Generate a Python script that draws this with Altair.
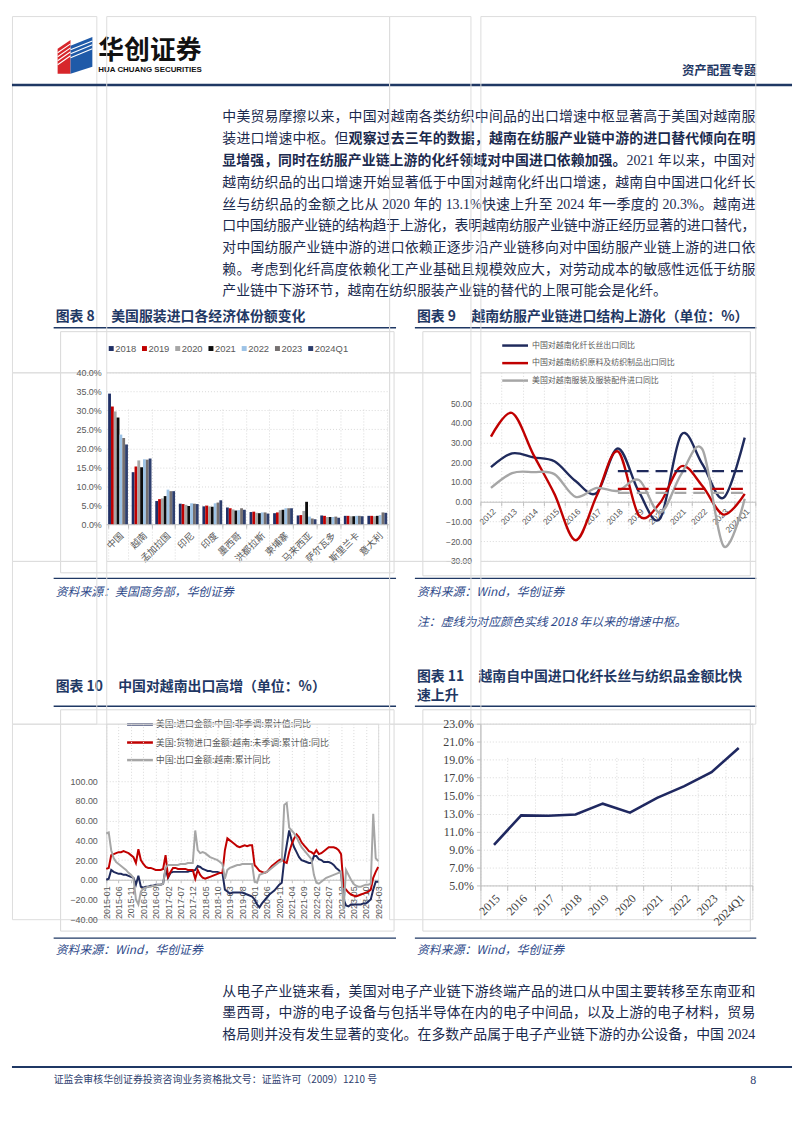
import altair as alt
import pandas as pd

CJK = "Noto Sans CJK SC"
SANS = "Liberation Sans, Noto Sans CJK SC"
SERIF = "Liberation Serif, Noto Sans CJK SC"
LSERIF = "Liberation Serif"
NAVY = "#1F3864"
BODY = "#1B2A4E"
SRC = "#2E4A8A"
AX = "#595959"
GRID = "#D9D9D9"
AXLINE = "#BFBFBF"

# ---------------- chart 8 data ----------------
countries8 = ["中国", "越南", "孟加拉国", "印尼", "印度", "墨西哥", "洪都拉斯", "柬埔寨",
              "马来西亚", "萨尔瓦多", "斯里兰卡", "意大利"]
years8 = ["2018", "2019", "2020", "2021", "2022", "2023", "2024Q1"]
share_2018 = [34.4, 13.7, 6.1, 5.4, 4.7, 4.4, 3.2, 2.9, 2.3, 2.3, 2.2, 2.2]
share_2019 = [31.0, 15.2, 6.6, 5.3, 4.9, 4.2, 3.3, 3.1, 2.4, 2.2, 2.2, 2.2]
share_2020 = [29.7, 16.8, 6.8, 5.1, 4.7, 3.9, 3.0, 3.7, 3.5, 1.9, 2.1, 2.1]
share_2021 = [28.1, 15.0, 7.4, 4.8, 4.6, 3.6, 2.9, 3.8, 5.9, 1.9, 2.1, 2.2]
share_2022 = [23.6, 17.1, 9.1, 5.5, 5.5, 3.7, 3.1, 4.2, 2.0, 1.9, 2.2, 2.4]
share_2023 = [22.7, 17.0, 8.7, 5.4, 5.7, 4.2, 3.1, 4.2, 1.5, 2.0, 2.2, 3.1]
share_2024Q1 = [21.0, 17.3, 8.7, 5.3, 6.3, 3.8, 2.8, 4.2, 1.3, 1.7, 2.1, 3.0]
colors8 = ["#1F2F66", "#C00000", "#A6A6A6", "#0D0D0D", "#9DC3E6", "#767171", "#2E3F6E"]
y_ticks8 = [0, 5, 10, 15, 20, 25, 30, 35, 40]

# ---------------- chart 9 data ----------------
years9 = ["2012", "2013", "2014", "2015", "2016", "2017", "2018", "2019", "2020",
          "2021", "2022", "2023", "2024Q1"]
series9 = ["中国对越南化纤长丝出口同比", "中国对越南纺织原料及纺织制品出口同比",
           "美国对越南服装及服装配件进口同比"]
cn_fiber_yoy = [17.5, 24.5, 22.5, 20.5, 10.5, 4.5, 27.0, 5.0, -8.5, 34.0, 19.0, 2.0, 32.5]
cn_textile_yoy = [33.0, 45.0, 24.0, 4.0, -19.5, 3.0, 25.5, -7.0, -0.5, 18.0, 8.0, -6.5, 4.0]
us_apparel_yoy = [7.0, 14.5, 15.0, 14.0, 2.5, 7.0, 5.5, 11.0, -5.5, 14.0, 26.5, -22.5, 1.5]
median9 = [15.5, 6.5, 4.5]
colors9 = ["#1F2A5C", "#C00000", "#A6A6A6"]
y_ticks9 = [-30, -20, -10, 0, 10, 20, 30, 40, 50]

# ---------------- chart 10 data ----------------
series10 = ["美国:进口金额:中国:非季调:累计值:同比", "美国:货物进口金额:越南:未季调:累计值:同比",
            "中国:出口金额:越南:累计同比"]
x_labels10 = ["2015-01", "2015-06", "2015-11", "2016-04", "2016-09", "2017-02", "2017-07",
              "2017-12", "2018-05", "2018-10", "2019-03", "2019-08", "2020-01", "2020-06",
              "2020-11", "2021-04", "2021-09", "2022-02", "2022-07", "2022-12", "2023-05",
              "2023-10", "2024-03"]
months10 = [f"{y}-{m:02d}" for y in range(2015, 2025) for m in range(1, 13)][:111]
us_imp_china = [0, 1, 10, 8, 7, 6, 6, 5, 5, 4, 3, 2,
                -5, 4, -7, -8, -7, -7, -6, -6, -5, -5, -5, -4,
                11, 2, 7, 8, 8, 8, 8, 8, 8, 8, 9, 9,
                10, 14, 13, 11, 10, 9, 9, 8, 8, 8, 7, 7,
                -10, -12, -14, -13, -13, -13, -13, -13, -14, -15, -16, -17,
                -20, -25, -28, -24, -21, -18, -15, -13, -11, -8, -5, -3,
                20, 35, 50, 40, 33, 28, 23, 20, 19, 18, 17, 17,
                24, 24, 21, 20, 18, 18, 18, 17, 15, 12, 10, 7,
                -20, -26, -27, -25, -25, -25, -25, -25, -24, -24, -22, -20,
                -10, -2, -2]
us_imp_vietnam = [11, 12, 25, 26, 27, 28, 28, 29, 28, 27, 25, 23,
                  17, 31, 20, 16, 13, 12, 12, 11, 10, 10, 10, 11,
                  25, 3, 8, 12, 12, 11, 11, 11, 11, 10, 10, 10,
                  1, 10, 5, 2, 1, 2, 3, 4, 5, 6, 7, 7,
                  30, 42, 40, 38, 36, 34, 33, 34, 35, 34, 35, 35,
                  15, 12, 9, 8, 7, 8, 11, 14, 16, 18, 20, 21,
                  18, 17, 28, 36, 42, 46, 43, 38, 35, 32, 29, 28,
                  26, 30, 26, 27, 29, 31, 33, 33, 33, 32, 30, 26,
                  -7, -10, -13, -15, -16, -17, -16, -15, -14, -13, -12, -10,
                  2, 8, 13]
cn_exp_vietnam = [47, 48, 30, 22, 18, 16, 14, 12, 10, 7, 5, 2,
                  -20, -25, -12, -9, -8, -7, -7, -6, -6, -5, -5, -4,
                  12, 15, 15, 15, 15, 15, 16, 16, 16, 17, 17, 17,
                  50, 30, 27, 28, 27, 25, 23, 22, 21, 20, 18, 16,
                  1, 10, 12, 13, 14, 15, 15, 16, 16, 16, 16, 16,
                  -2, -3, 5, 6, 7, 8, 10, 12, 14, 16, 18, 19,
                  76, 78, 53, 50, 47, 43, 38, 33, 30, 27, 24, 21,
                  5, -3, -4, -2, 0, 2, 3, 4, 5, 6, 7, 8,
                  -30, 10, 5, 0, -4, -6, -7, -7, -6, -5, -5, -4,
                  67, 22, 19]
colors10 = ["#1F2A5C", "#C00000", "#A6A6A6"]
y_ticks10 = [-40, -20, 0, 20, 40, 60, 80, 100]

# ---------------- chart 11 data ----------------
years11 = ["2015", "2016", "2017", "2018", "2019", "2020", "2021", "2022", "2023", "2024Q1"]
fiber_ratio = [9.5, 12.8, 12.75, 12.9, 14.1, 13.1, 14.75, 16.05, 17.6, 20.3]
y_ticks11 = [5, 7, 9, 11, 13, 15, 17, 19, 21, 23]

# ---------------- page text ----------------
para1 = [
    [("中美贸易摩擦以来，中国对越南各类纺织中间品的出口增速中枢显著高于美国对越南服", False)],
    [("装进口增速中枢。但", False), ("观察过去三年的数据，越南在纺服产业链中游的进口替代倾向在明", True)],
    [("显增强，同时在纺服产业链上游的化纤领域对中国进口依赖加强。", True), ("2021 年以来，中国对", False)],
    [("越南纺织品的出口增速开始显著低于中国对越南化纤出口增速，越南自中国进口化纤长", False)],
    [("丝与纺织品的金额之比从 2020 年的 13.1%快速上升至 2024 年一季度的 20.3%。越南进", False)],
    [("口中国纺服产业链的结构趋于上游化，表明越南纺服产业链中游正经历显著的进口替代，", False)],
    [("对中国纺服产业链中游的进口依赖正逐步沿产业链移向对中国纺服产业链上游的进口依", False)],
    [("赖。考虑到化纤高度依赖化工产业基础且规模效应大，对劳动成本的敏感性远低于纺服", False)],
    [("产业链中下游环节，越南在纺织服装产业链的替代的上限可能会是化纤。", False)],
]
para2 = [
    [("从电子产业链来看，美国对电子产业链下游终端产品的进口从中国主要转移至东南亚和", False)],
    [("墨西哥，中游的电子设备与包括半导体在内的电子中间品，以及上游的电子材料，贸易", False)],
    [("格局则并没有发生显著的变化。在多数产品属于电子产业链下游的办公设备，中国 2024", False)],
]

OX, OY = 8, 8
texts = []


def add_text(t, x, y, size, font=CJK, weight="normal", color=BODY, style="normal", align="left"):
    texts.append(dict(t=t, x=x - OX, y=y - OY, size=size, font=font, weight=weight,
                      color=color, style=style, align=align))


def is_wide(ch):
    return ord(ch) >= 0x2E80


def ascii_w(s, fs):
    w = 0.0
    for ch in s:
        if ch.isdigit():
            w += 0.5
        elif ch == " ":
            w += 0.25
        elif ch in ".,:;":
            w += 0.25
        elif ch == "%":
            w += 0.833
        elif ch.isupper():
            w += 0.7
        else:
            w += 0.48
    return w * fs


def layout_line(segs, x0, x1, y, fs, justify=True):
    toks = []
    for seg, bold in segs:
        buf = ""
        for ch in seg:
            if is_wide(ch):
                if buf:
                    toks.append((buf, bold))
                    buf = ""
                toks.append((ch, bold))
            else:
                buf += ch
        if buf:
            toks.append((buf, bold))
    items = []
    for t, bold in toks:
        if is_wide(t[0]):
            items.append((t, fs, bold, True, 0.0))
        else:
            lead = len(t) - len(t.lstrip(" "))
            items.append((t.strip(" "), ascii_w(t, fs), bold, False, lead * 0.25 * fs))
    total = sum(i[1] for i in items)
    gap = (x1 - x0 - total) / (len(items) - 1) if (justify and len(items) > 1) else 0.0
    x = x0
    for t, w, bold, wide, lead in items:
        add_text(t, x + lead, y, fs, font=CJK if wide else LSERIF,
                 weight="bold" if bold else "normal")
        x += w + gap


# header
add_text("华创证券", 95, 43, 26, weight="bold", color="#111111")
add_text("HUA CHUANG SECURITIES", 95, 62, 8, font="Liberation Sans", weight="bold", color="#111111")
add_text("资产配置专题", 758, 63, 12.5, weight="bold", color=NAVY, align="right")

p1_y = [110, 132, 154, 176, 198, 220, 242, 264, 285]
for i, (segs, y) in enumerate(zip(para1, p1_y)):
    layout_line(segs, 220, 757, y, 14, justify=(i < len(para1) - 1))
p2_y = [991, 1013, 1035]
for segs, y in zip(para2, p2_y):
    layout_line(segs, 220, 757, y, 14, justify=True)

# chart titles
for lab, x, y in [("图表 8", 52, 311), ("图表 9", 416, 311), ("图表 10", 52, 684), ("图表 11", 416, 674)]:
    add_text(lab, x, y, 14, weight="bold", color=NAVY)
add_text("美国服装进口各经济体份额变化", 108, 311, 14, weight="bold", color=NAVY)
add_text("越南纺服产业链进口结构上游化（单位：%）", 471, 311, 14, weight="bold", color=NAVY)
add_text("中国对越南出口高增（单位：%）", 115, 684, 14, weight="bold", color=NAVY)
add_text("越南自中国进口化纤长丝与纺织品金额比快", 478, 674, 14, weight="bold", color=NAVY)
add_text("速上升", 416, 693.5, 14, weight="bold", color=NAVY)

# sources
add_text("资料来源：美国商务部，华创证券", 52, 588, 12, color=SRC, style="italic")
add_text("资料来源：Wind，华创证券", 416, 588, 12, color=SRC, style="italic")
add_text("注：虚线为对应颜色实线 2018 年以来的增速中枢。", 416, 619, 12, color=SRC, style="italic")
add_text("资料来源：Wind，华创证券", 52, 949, 12, color=SRC, style="italic")
add_text("资料来源：Wind，华创证券", 416, 949, 12, color=SRC, style="italic")

# footer
add_text("证监会审核华创证券投资咨询业务资格批文号：证监许可（2009）1210 号", 50, 1080, 10, color="#2F3F6F")
add_text("8", 758, 1080, 12, font=LSERIF, color="#2F3F6F", align="right")

# legend labels
leg8_x = [108 + 33.5 * i for i in range(len(years8))]
for yr, x in zip(years8, leg8_x):
    add_text(yr, x + 4, 343, 9.5, font=SANS, color=AX)
leg9_y = [340, 357.7, 375.3]
for s, y in zip(series9, leg9_y):
    add_text(s, 532, y, 8, color=AX)
leg10_y = [721.7, 740, 757.7]
for s, y in zip(series10, leg10_y):
    add_text(s, 153, y, 9, color=AX)

# horizontal rules: (x1, x2, y, colour, width)
hrules = [
    (8, 794, 77.5, NAVY, 2.5),
    (50, 395, 322, NAVY, 1.5), (414, 758, 322, NAVY, 1.5),
    (50, 395, 574.5, NAVY, 1.2), (414, 758, 574.5, NAVY, 1.2),
    (50, 395, 703.5, NAVY, 1.5), (414, 758, 703.5, NAVY, 1.5),
    (50, 395, 937, NAVY, 1.2), (414, 758, 937, NAVY, 1.2),
    (8, 794, 1067, NAVY, 2),
]
vrules = []  # (x, y1, y2)
frames = [(57, 326, 393, 569), (422, 326, 752, 572), (57, 707, 393, 930), (422, 707, 752, 930)]
for a, b, c, d in frames:
    hrules += [(a, c, b, GRID, 1), (a, c, d, GRID, 1)]
    vrules += [(a, b, d), (c, b, d)]

NOAX = dict(axis=None)
layers0 = []
hdf = pd.DataFrame([dict(x=a - OX, x2=c - OX, y=y - OY, c=col, w=w) for a, c, y, col, w in hrules])
for (col, w), g in hdf.groupby(["c", "w"]):
    layers0.append(alt.Chart(g[["x", "x2", "y"]]).mark_rule(color=col, strokeWidth=w).encode(
        x=alt.X("x:Q", scale=None, **NOAX), x2="x2:Q", y=alt.Y("y:Q", scale=None, **NOAX)))
vdf = pd.DataFrame([dict(x=x - OX, y=a - OY, y2=b - OY) for x, a, b in vrules])
layers0.append(alt.Chart(vdf).mark_rule(color=GRID, strokeWidth=1).encode(
    x=alt.X("x:Q", scale=None, **NOAX), y=alt.Y("y:Q", scale=None, **NOAX), y2="y2:Q"))

# logo
LX, LY = 71.5 - OX, 47.5 - OY
logo_shapes = [
    ("M-17.5,-6.5 L-4.5,-15.5 L-4.5,18.5 L-17.5,18.5 Z", "#D7262B", True, 0),
    ("M-4.5,-9.5 L17.5,-18.5 L17.5,11.5 L-4.5,18.5 Z", "#1F5AA8", True, 0),
    ("M-17.5,-2.5 L-4.5,-11.5 M-17.5,1.5 L-4.5,-7.5 M-17.5,5.5 L-4.5,-3.5 M-17.5,9.5 L-4.5,0.5",
     "#FFFFFF", False, 1.1),
    ("M-4.5,-5.5 L17.5,-14.5 M-4.5,-1.5 L17.5,-10.5 M-4.5,2.5 L17.5,-6.5",
     "#FFFFFF", False, 1.1),
]
for path, col, filled, sw in logo_shapes:
    kw = dict(shape=path, size=4, filled=filled, color=col, opacity=1)
    if not filled:
        kw["strokeWidth"] = sw
    layers0.append(alt.Chart(alt.Data(values=[{}])).mark_point(**kw).encode(
        x=alt.value(LX), y=alt.value(LY)))

# legend swatches (one per item, colours taken from the series colour lists)
one = alt.Data(values=[{}])
for col, x in zip(colors8, leg8_x):
    layers0.append(alt.Chart(one).mark_square(size=25, opacity=1, color=col).encode(
        x=alt.value(x - OX), y=alt.value(343 - OY)))
for col, y in zip(colors9, leg9_y):
    layers0.append(alt.Chart(one).mark_rule(strokeWidth=2.5, color=col).encode(
        x=alt.value(502 - OX), x2=alt.value(528 - OX), y=alt.value(y - OY)))
for col, y in zip(colors10, leg10_y):
    layers0.append(alt.Chart(one).mark_rule(strokeWidth=2.5, color=col).encode(
        x=alt.value(124 - OX), x2=alt.value(150 - OX), y=alt.value(y - OY)))

# texts grouped by style
tdf = pd.DataFrame(texts)
for key, g in tdf.groupby(["size", "font", "weight", "color", "style", "align"]):
    size, font, weight, color, style, align = key
    layers0.append(alt.Chart(g[["x", "y", "t"]]).mark_text(
        align=align, baseline="middle", font=font, fontSize=float(size), fontWeight=weight,
        color=color, fontStyle=style).encode(
        x=alt.X("x:Q", scale=None, **NOAX), y=alt.Y("y:Q", scale=None, **NOAX), text="t:N"))

# ---------------- grid geometry (flat concat, 4 columns, uniform row heights) ----------------
COLW1 = [85, 285, 82, 277]      # row with charts 8 / 9
COLW2 = [95, 274, 92, 274]      # row with charts 10 / 11
ROW0_H, ROW1_H, GAP_H, ROW3_H = 359, 190, 164, 197

R0 = alt.layer(*layers0).properties(width=COLW1[0], height=ROW0_H)

# ---------------- chart 8 ----------------
H8 = 153
shares8 = [share_2018, share_2019, share_2020, share_2021, share_2022, share_2023, share_2024Q1]
df8 = pd.DataFrame([dict(country=c, year=yr, share=vals[i])
                    for yr, vals in zip(years8, shares8) for i, c in enumerate(countries8)])
chart8 = alt.Chart(df8).mark_bar().encode(
    x=alt.X("country:N", sort=countries8, title=None,
            scale=alt.Scale(paddingInner=0.16, paddingOuter=0.08),
            axis=alt.Axis(labelAngle=-45, labelFont=CJK, labelFontSize=9.5, labelColor=AX,
                          offset=-(ROW1_H - H8),
                          tickBand="extent", grid=True, gridColor=GRID, gridDash=[1, 2],
                          domainColor=AXLINE, tickColor=AXLINE, tickSize=4, labelPadding=2)),
    xOffset=alt.XOffset("year:N", sort=years8, scale=alt.Scale(paddingInner=0, paddingOuter=0)),
    y=alt.Y("share:Q", title=None, scale=alt.Scale(domain=[0, 40], nice=False, range=[H8, 0]),
            axis=alt.Axis(values=y_ticks8, labelExpr="format(datum.value, '.1f') + '%'",
                          grid=True, gridColor=GRID, gridDash=[1, 2], domain=False, ticks=False,
                          labelFont=SANS, labelFontSize=9, labelColor=AX, labelPadding=5)),
    color=alt.Color("year:N", sort=years8, scale=alt.Scale(domain=years8, range=colors8), legend=None),
).properties(width=COLW1[1], height=ROW1_H)

# ---------------- chart 9 ----------------
vals9 = [cn_fiber_yoy, cn_textile_yoy, us_apparel_yoy]
df9 = pd.DataFrame([dict(year9=yr, series9=s, value9=v[i])
                    for s, v in zip(series9, vals9) for i, yr in enumerate(years9)])
dfm9 = pd.DataFrame([dict(year9=yr, series9=s, value9=m)
                     for s, m in zip(series9, median9) for yr in years9[years9.index("2018"):]])
TOP9, H9 = 31, 159
zero9 = TOP9 + H9 * 50 / 80
x9 = alt.X("year9:N", sort=years9, title=None, bandPosition=0.5,
           scale=alt.Scale(type="band", paddingInner=0, paddingOuter=0),
           axis=alt.Axis(labelAngle=-45, offset=-(ROW1_H - zero9), tickBand="extent", grid=True,
                         gridColor=GRID, gridDash=[1, 2], domainColor=AXLINE, tickColor=AXLINE,
                         tickSize=4, labelFont=SANS, labelFontSize=8.5, labelColor=AX, labelPadding=1))
y9 = alt.Y("value9:Q", title=None, scale=alt.Scale(domain=[-30, 50], nice=False, range=[TOP9 + H9, TOP9]),
           axis=alt.Axis(values=y_ticks9, format=".2f", grid=True, gridColor=GRID, gridDash=[1, 2],
                         domain=False, ticks=False, labelFont=SANS, labelFontSize=8.5, labelColor=AX,
                         labelPadding=9))
c9 = alt.Color("series9:N", sort=series9, scale=alt.Scale(domain=series9, range=colors9), legend=None)
lines9 = alt.Chart(df9).mark_line(interpolate="cardinal", strokeWidth=2.4).encode(x=x9, y=y9, color=c9)
dash9 = alt.Chart(dfm9).mark_line(strokeDash=[12, 7], strokeWidth=2.2).encode(x=x9, y=y9, color=c9)
chart9 = alt.layer(lines9, dash9).properties(width=COLW1[3], height=ROW1_H)

# ---------------- chart 10 ----------------
vals10 = [us_imp_china, us_imp_vietnam, cn_exp_vietnam]
df10 = pd.DataFrame([dict(m=i, month=mo, series10=s, value10=v[i])
                     for s, v in zip(series10, vals10) for i, mo in enumerate(months10)])
TOP10, H10 = 58, 139
zero10 = TOP10 + H10 * 100 / 140
lab_expr10 = "[" + ",".join(f"'{l}'" for l in x_labels10) + "][round(datum.value / 5)]"
chart10 = alt.Chart(df10).mark_line(strokeWidth=2).encode(
    x=alt.X("m:Q", title=None, scale=alt.Scale(domain=[0, len(months10) - 1], nice=False, zero=False),
            axis=alt.Axis(values=list(range(0, len(months10), 5)), labelExpr=lab_expr10, labelAngle=-90,
                          offset=-(ROW3_H - zero10), grid=True, gridColor=GRID, gridDash=[1, 2],
                          domainColor=AXLINE, tickColor=AXLINE, tickSize=3, labelFont=SANS,
                          labelFontSize=9, labelColor=AX, labelPadding=3)),
    y=alt.Y("value10:Q", title=None,
            scale=alt.Scale(domain=[-40, 100], nice=False, range=[TOP10 + H10, TOP10]),
            axis=alt.Axis(values=y_ticks10, format=".2f", grid=True, gridColor=GRID, gridDash=[1, 2],
                          domain=False, ticks=False, labelFont=SANS, labelFontSize=9, labelColor=AX,
                          labelPadding=9)),
    color=alt.Color("series10:N", sort=series10, scale=alt.Scale(domain=series10, range=colors10),
                    legend=None),
).properties(width=COLW2[1], height=ROW3_H)

# ---------------- chart 11 ----------------
H11 = 163
df11 = pd.DataFrame(dict(year11=years11, ratio=fiber_ratio))
chart11 = alt.Chart(df11).mark_line(color="#1F2860", strokeWidth=2.6).encode(
    x=alt.X("year11:N", sort=years11, title=None, bandPosition=0.5,
            scale=alt.Scale(type="band", paddingInner=0, paddingOuter=0),
            axis=alt.Axis(labelAngle=-45, offset=-(ROW3_H - H11), tickBand="extent", grid=True,
                          gridColor=GRID, gridDash=[1, 2],
                          domainColor=AXLINE, tickColor=AXLINE, tickSize=5, labelFont=SERIF,
                          labelFontSize=12, labelColor="#404040", labelPadding=2)),
    y=alt.Y("ratio:Q", title=None, scale=alt.Scale(domain=[5, 23], nice=False, zero=False, range=[H11, 0]),
            axis=alt.Axis(values=y_ticks11, labelExpr="format(datum.value, '.1f') + '%'", grid=True,
                          gridColor=GRID, gridDash=[1, 2], domainColor=AXLINE, tickColor=AXLINE,
                          tickSize=4, labelFont=SERIF, labelFontSize=12, labelColor="#404040",
                          labelPadding=3)),
).properties(width=COLW2[3], height=ROW3_H)


def spacer(w, h):
    return alt.Chart(alt.Data(values=[{}])).mark_point(opacity=0).encode(
        x=alt.value(0), y=alt.value(0)).properties(width=w, height=h)


cells = [
    R0, spacer(COLW1[1], ROW0_H), spacer(COLW1[2], ROW0_H), spacer(COLW1[3], ROW0_H),
    spacer(COLW1[0], ROW1_H), chart8, spacer(COLW1[2], ROW1_H), chart9,
    spacer(COLW1[0], GAP_H), spacer(COLW1[1], GAP_H), spacer(COLW1[2], GAP_H), spacer(COLW1[3], GAP_H),
    spacer(COLW2[0], ROW3_H), chart10, spacer(COLW2[2], ROW3_H), chart11,
]

chart = alt.concat(*cells, columns=4, spacing=0, bounds="flush", align="none", padding=0).resolve_scale(
    color="independent").configure_view(strokeWidth=0, strokeOpacity=0, stroke="transparent").configure(
    background="white")

chart.save("out.html", embed_options={"renderer": "svg", "actions": False})
